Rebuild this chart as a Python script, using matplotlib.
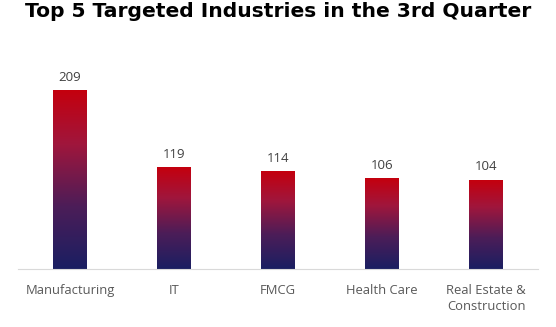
import matplotlib.pyplot as plt
import numpy as np
from matplotlib.colors import LinearSegmentedColormap

industries = ["Manufacturing", "IT", "FMCG", "Health Care", "Real Estate &\nConstruction"]
counts = [209, 119, 114, 106, 104]

cmap = LinearSegmentedColormap.from_list(
    "redblue", [(0.0, "#1a1f62"), (0.35, "#4c1d58"), (0.7, "#a0163c"), (1.0, "#c4000e")])

fig = plt.figure(figsize=(5.56, 3.27), dpi=100)
ax = fig.add_axes([18 / 556, 58 / 327, 520 / 556, 209 / 327])

x = np.arange(len(industries))
width = 0.32
bars = ax.bar(x, counts, width=width, color="none")
grad = np.linspace(0, 1, 256).reshape(-1, 1)
for xi, val in zip(x, counts):
    ax.imshow(grad, cmap=cmap, origin="lower", aspect="auto",
              extent=[xi - width / 2, xi + width / 2, 0, val], zorder=2)
    ax.text(xi, val + 8, str(val), ha="center", va="bottom",
            fontsize=9.5, color="#404040", family="Open Sans")

ax.set_xlim(-0.5, len(industries) - 0.5)
ax.set_ylim(0, 245)
ax.set_xticks(x)
ax.set_xticklabels(industries, fontsize=9.4, color="#595959", family="Open Sans",
                   linespacing=1.3)
ax.tick_params(axis="x", length=0, pad=11)
ax.set_yticks([])
for s in ["top", "left", "right"]:
    ax.spines[s].set_visible(False)
ax.spines["bottom"].set_color("#d9d9d9")

fig.text(0.5, 0.995, "Top 5 Targeted Industries in the 3rd Quarter", ha="center", va="top",
         fontsize=14.6, fontweight="bold", color="black", family="DejaVu Sans")

fig.savefig("out.png", dpi=100)
